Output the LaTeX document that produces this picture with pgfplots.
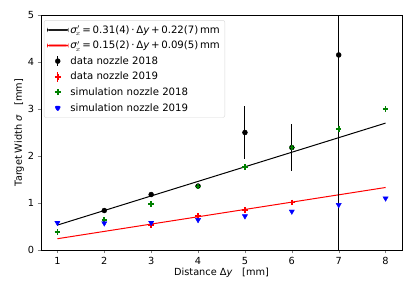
\documentclass[border=0pt]{standalone}
\usepackage{fontspec}
\setmainfont{DejaVu Sans}
\usepackage{pgfplots}
\pgfplotsset{compat=1.18}
\begin{document}
\begin{tikzpicture}[font=\fontsize{9.8pt}{11pt}\selectfont]
\begin{axis}[
  at={(0,0)}, anchor=south west,
  scale only axis, width=361bp, height=235bp,
  xmin=0.65, xmax=8.35, ymin=0, ymax=5,
  xtick={1,...,8}, ytick={0,...,5},
  tick align=outside, xtick pos=bottom, ytick pos=left,
  major tick length=3.5pt,
  /pgf/number format/assume math mode=true,
  xlabel={Distance Δ\textit{y}\quad[mm]},
  ylabel={Target Width \textit{σ}\quad[mm]},
  xlabel style={yshift=3pt},
  ylabel style={yshift=-3pt},
  legend cell align=left,
  legend style={at={(0.008,0.978)}, anchor=north west, draw=black!15, rounded corners=2pt, fill=white, text opacity=1, row sep=2.4pt, inner sep=3pt, font=\fontsize{10.2pt}{12pt}\selectfont},
  axis line style={line width=0.6pt},
]
\addlegendimage{legend image code/.code={\fill[black] (0cm,-0.6pt) rectangle (0.74cm,0.6pt);}}
\addlegendentry{\textit{σ}$'_{\!x}$\,=\,0.31(4)\,·\,Δ\textit{y}\,+\,0.22(7)\,mm}
\addlegendimage{legend image code/.code={\fill[red] (0cm,-0.6pt) rectangle (0.74cm,0.6pt);}}
\addlegendentry{\textit{σ}$'_{\!x}$\,=\,0.15(2)\,·\,Δ\textit{y}\,+\,0.09(5)\,mm}
\addlegendimage{legend image code/.code={\draw[line width=1pt,black] (0.37cm,-0.17cm) -- (0.37cm,0.17cm); \fill[black] (0.37cm,0cm) circle (2.5pt);}}
\addlegendentry{data nozzle 2018}
\addlegendimage{legend image code/.code={\draw[line width=1pt,red] (0.37cm,-0.17cm) -- (0.37cm,0.17cm); \draw[red,line width=1.8pt] (0.27cm,0cm) -- (0.47cm,0cm) (0.37cm,-0.1cm) -- (0.37cm,0.1cm);}}
\addlegendentry{data nozzle 2019}
\addlegendimage{legend image code/.code={\draw[green!50!black,line width=1.8pt] (0.27cm,0cm) -- (0.47cm,0cm) (0.37cm,-0.1cm) -- (0.37cm,0.1cm);}}
\addlegendentry{simulation nozzle 2018}
\addlegendimage{legend image code/.code={\fill[blue] (0.37cm-3.3pt,1.8pt) -- (0.37cm+3.3pt,1.8pt) -- (0.37cm,-3.8pt) -- cycle;}}
\addlegendentry{simulation nozzle 2019}

\addplot[black, line width=1pt, forget plot] coordinates {(1,0.53) (8,2.70)};
\addplot[red, line width=1pt, forget plot] coordinates {(1,0.24) (8,1.33)};
\addplot[black, only marks, mark=*, mark size=2.5pt, forget plot,
  error bars/.cd, y dir=both, y explicit, error bar style={line width=1pt}, error mark=none]
  coordinates {(2,0.84) +- (0,0.04) (3,1.18) +- (0,0.04) (4,1.36) +- (0,0.05) (5,2.50) +- (0,0.57) (6,2.18) +- (0,0.50) (7,4.15) +- (0,4.3)};
\addplot[red, only marks, mark=+, mark size=2.8pt, mark options={line width=1.8pt}, forget plot,
  error bars/.cd, y dir=both, y explicit, error bar style={line width=1pt}, error mark=none]
  coordinates {(3,0.53) +- (0,0.04) (4,0.72) +- (0,0.04) (5,0.85) +- (0,0.04) (6,1.01) +- (0,0.03)};
\addplot[green!50!black, only marks, mark=+, mark size=2.8pt, mark options={line width=1.8pt}, forget plot]
  coordinates {(1,0.38) (2,0.64) (3,0.98) (4,1.35) (5,1.76) (6,2.18) (7,2.58) (8,3.00)};
\addplot[blue, only marks, mark=triangle*, mark size=3pt, mark options={rotate=180}, forget plot]
  coordinates {(1,0.58) (2,0.57) (3,0.58) (4,0.64) (5,0.72) (6,0.82) (7,0.96) (8,1.10)};
\end{axis}
\path[use as bounding box] (-41bp,-44bp) rectangle (374bp,250bp);
\end{tikzpicture}
\end{document}
